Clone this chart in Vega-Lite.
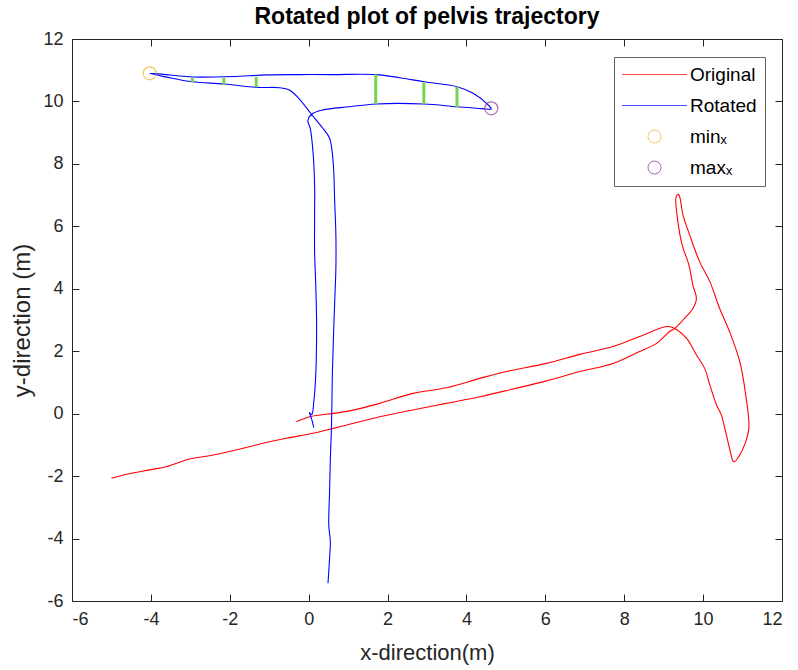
{
  "$schema": "https://vega.github.io/schema/vega-lite/v6.json",
  "width": 710,
  "height": 562,
  "autosize": {"type": "none"},
  "padding": {"left": 72, "top": 39, "right": 16, "bottom": 69},
  "background": "white",
  "title": {
    "text": "Rotated plot of pelvis trajectory",
    "font": "Liberation Sans",
    "fontSize": 23,
    "fontWeight": "bold",
    "color": "#000000",
    "anchor": "middle",
    "frame": "group",
    "offset": 1
  },
  "config": {
    "view": {"stroke": null},
    "axis": {
      "grid": false,
      "domainColor": "#262626",
      "domainWidth": 1,
      "ticks": true,
      "tickColor": "#262626",
      "tickWidth": 1,
      "tickSize": -7,
      "labelColor": "#262626",
      "titleColor": "#262626",
      "labelFont": "Liberation Sans",
      "titleFont": "Liberation Sans",
      "labelFontSize": 18,
      "titleFontWeight": "normal",
      "labelPadding": 16,
      "labelExpr": "datum.value < 0 ? '-' + abs(datum.value) : '' + datum.value"
    },
    "legend": {
      "orient": "none",
      "legendX": 542,
      "legendY": 18,
      "fillColor": "white",
      "strokeColor": "#666666",
      "padding": 8,
      "labelFont": "Liberation Sans",
      "labelFontSize": 19,
      "labelColor": "#000000",
      "labelLimit": 0,
      "symbolSize": 169,
      "symbolStrokeWidth": 1,
      "symbolOffset": 23,
      "labelOffset": 26,
      "rowPadding": 11
    }
  },
  "datasets": {
    "traj": [
      {"s": "Original", "i": 1, "x": -0.31, "y": -0.26},
      {"s": "Original", "i": 2, "x": 0.03, "y": -0.1},
      {"s": "Original", "i": 3, "x": 0.62, "y": 0.01},
      {"s": "Original", "i": 4, "x": 1.04, "y": 0.09},
      {"s": "Original", "i": 5, "x": 1.8, "y": 0.33},
      {"s": "Original", "i": 6, "x": 2.64, "y": 0.65},
      {"s": "Original", "i": 7, "x": 3.49, "y": 0.83},
      {"s": "Original", "i": 8, "x": 4.34, "y": 1.13},
      {"s": "Original", "i": 9, "x": 5.01, "y": 1.35},
      {"s": "Original", "i": 10, "x": 6.03, "y": 1.61},
      {"s": "Original", "i": 11, "x": 6.87, "y": 1.9},
      {"s": "Original", "i": 12, "x": 7.72, "y": 2.15},
      {"s": "Original", "i": 13, "x": 8.39, "y": 2.47},
      {"s": "Original", "i": 14, "x": 9.07, "y": 2.79},
      {"s": "Original", "i": 15, "x": 9.24, "y": 2.75},
      {"s": "Original", "i": 16, "x": 9.58, "y": 2.41},
      {"s": "Original", "i": 17, "x": 9.83, "y": 1.88},
      {"s": "Original", "i": 18, "x": 10.04, "y": 1.45},
      {"s": "Original", "i": 19, "x": 10.17, "y": 0.92},
      {"s": "Original", "i": 20, "x": 10.34, "y": 0.28},
      {"s": "Original", "i": 21, "x": 10.46, "y": -0.04},
      {"s": "Original", "i": 22, "x": 10.59, "y": -0.68},
      {"s": "Original", "i": 23, "x": 10.67, "y": -1.11},
      {"s": "Original", "i": 24, "x": 10.76, "y": -1.52},
      {"s": "Original", "i": 25, "x": 10.8, "y": -1.54},
      {"s": "Original", "i": 26, "x": 10.93, "y": -1.32},
      {"s": "Original", "i": 27, "x": 11.05, "y": -1.0},
      {"s": "Original", "i": 28, "x": 11.16, "y": -0.47},
      {"s": "Original", "i": 29, "x": 11.08, "y": 0.6},
      {"s": "Original", "i": 30, "x": 10.93, "y": 1.67},
      {"s": "Original", "i": 31, "x": 10.67, "y": 2.63},
      {"s": "Original", "i": 32, "x": 10.42, "y": 3.37},
      {"s": "Original", "i": 33, "x": 10.17, "y": 4.23},
      {"s": "Original", "i": 34, "x": 9.91, "y": 4.87},
      {"s": "Original", "i": 35, "x": 9.66, "y": 5.72},
      {"s": "Original", "i": 36, "x": 9.49, "y": 6.36},
      {"s": "Original", "i": 37, "x": 9.39, "y": 7.0},
      {"s": "Original", "i": 38, "x": 9.35, "y": 7.02},
      {"s": "Original", "i": 39, "x": 9.31, "y": 6.9},
      {"s": "Original", "i": 40, "x": 9.36, "y": 6.15},
      {"s": "Original", "i": 41, "x": 9.47, "y": 5.4},
      {"s": "Original", "i": 42, "x": 9.64, "y": 4.76},
      {"s": "Original", "i": 43, "x": 9.74, "y": 4.12},
      {"s": "Original", "i": 44, "x": 9.83, "y": 3.69},
      {"s": "Original", "i": 45, "x": 9.74, "y": 3.37},
      {"s": "Original", "i": 46, "x": 9.49, "y": 3.0},
      {"s": "Original", "i": 47, "x": 9.28, "y": 2.73},
      {"s": "Original", "i": 48, "x": 9.15, "y": 2.63},
      {"s": "Original", "i": 49, "x": 8.82, "y": 2.25},
      {"s": "Original", "i": 50, "x": 8.39, "y": 1.99},
      {"s": "Original", "i": 51, "x": 7.72, "y": 1.61},
      {"s": "Original", "i": 52, "x": 6.87, "y": 1.35},
      {"s": "Original", "i": 53, "x": 6.03, "y": 1.05},
      {"s": "Original", "i": 54, "x": 5.18, "y": 0.79},
      {"s": "Original", "i": 55, "x": 4.34, "y": 0.54},
      {"s": "Original", "i": 56, "x": 3.49, "y": 0.33},
      {"s": "Original", "i": 57, "x": 2.64, "y": 0.12},
      {"s": "Original", "i": 58, "x": 1.8, "y": -0.1},
      {"s": "Original", "i": 59, "x": 1.04, "y": -0.34},
      {"s": "Original", "i": 60, "x": 0.62, "y": -0.47},
      {"s": "Original", "i": 61, "x": 0.11, "y": -0.63},
      {"s": "Original", "i": 62, "x": -0.57, "y": -0.79},
      {"s": "Original", "i": 63, "x": -1.16, "y": -0.95},
      {"s": "Original", "i": 64, "x": -1.92, "y": -1.19},
      {"s": "Original", "i": 65, "x": -2.51, "y": -1.35},
      {"s": "Original", "i": 66, "x": -3.02, "y": -1.45},
      {"s": "Original", "i": 67, "x": -3.61, "y": -1.7},
      {"s": "Original", "i": 68, "x": -4.03, "y": -1.8},
      {"s": "Original", "i": 69, "x": -4.62, "y": -1.94},
      {"s": "Original", "i": 70, "x": -5.0, "y": -2.07},
      {"s": "Rotated", "i": 1, "x": 0.13, "y": -0.45},
      {"s": "Rotated", "i": 2, "x": 0.08, "y": -0.19},
      {"s": "Rotated", "i": 3, "x": 0.02, "y": 0.04},
      {"s": "Rotated", "i": 4, "x": 0.08, "y": -0.03},
      {"s": "Rotated", "i": 5, "x": 0.13, "y": 0.38},
      {"s": "Rotated", "i": 6, "x": 0.18, "y": 1.24},
      {"s": "Rotated", "i": 7, "x": 0.2, "y": 2.31},
      {"s": "Rotated", "i": 8, "x": 0.2, "y": 3.05},
      {"s": "Rotated", "i": 9, "x": 0.18, "y": 4.12},
      {"s": "Rotated", "i": 10, "x": 0.15, "y": 5.19},
      {"s": "Rotated", "i": 11, "x": 0.15, "y": 6.26},
      {"s": "Rotated", "i": 12, "x": 0.15, "y": 7.33},
      {"s": "Rotated", "i": 13, "x": 0.11, "y": 8.39},
      {"s": "Rotated", "i": 14, "x": 0.04, "y": 9.14},
      {"s": "Rotated", "i": 15, "x": -0.02, "y": 9.38},
      {"s": "Rotated", "i": 16, "x": 0.07, "y": 9.59},
      {"s": "Rotated", "i": 17, "x": 0.36, "y": 9.73},
      {"s": "Rotated", "i": 18, "x": 1.04, "y": 9.83},
      {"s": "Rotated", "i": 19, "x": 1.7, "y": 9.92},
      {"s": "Rotated", "i": 20, "x": 2.92, "y": 9.92},
      {"s": "Rotated", "i": 21, "x": 3.76, "y": 9.83},
      {"s": "Rotated", "i": 22, "x": 4.4, "y": 9.77},
      {"s": "Rotated", "i": 23, "x": 4.63, "y": 9.76},
      {"s": "Rotated", "i": 24, "x": 4.55, "y": 9.89},
      {"s": "Rotated", "i": 25, "x": 4.17, "y": 10.26},
      {"s": "Rotated", "i": 26, "x": 3.76, "y": 10.47},
      {"s": "Rotated", "i": 27, "x": 2.92, "y": 10.63},
      {"s": "Rotated", "i": 28, "x": 2.31, "y": 10.76},
      {"s": "Rotated", "i": 29, "x": 1.7, "y": 10.86},
      {"s": "Rotated", "i": 30, "x": 0.62, "y": 10.86},
      {"s": "Rotated", "i": 31, "x": -0.23, "y": 10.86},
      {"s": "Rotated", "i": 32, "x": -1.07, "y": 10.85},
      {"s": "Rotated", "i": 33, "x": -1.92, "y": 10.8},
      {"s": "Rotated", "i": 34, "x": -2.76, "y": 10.78},
      {"s": "Rotated", "i": 35, "x": -3.02, "y": 10.79},
      {"s": "Rotated", "i": 36, "x": -4.03, "y": 10.9},
      {"s": "Rotated", "i": 37, "x": -3.6, "y": 10.78},
      {"s": "Rotated", "i": 38, "x": -2.95, "y": 10.63},
      {"s": "Rotated", "i": 39, "x": -2.15, "y": 10.56},
      {"s": "Rotated", "i": 40, "x": -1.33, "y": 10.45},
      {"s": "Rotated", "i": 41, "x": -0.74, "y": 10.44},
      {"s": "Rotated", "i": 42, "x": -0.48, "y": 10.36},
      {"s": "Rotated", "i": 43, "x": -0.25, "y": 10.1},
      {"s": "Rotated", "i": 44, "x": 0.07, "y": 9.59},
      {"s": "Rotated", "i": 45, "x": 0.36, "y": 9.14},
      {"s": "Rotated", "i": 46, "x": 0.53, "y": 8.82},
      {"s": "Rotated", "i": 47, "x": 0.62, "y": 8.07},
      {"s": "Rotated", "i": 48, "x": 0.66, "y": 6.79},
      {"s": "Rotated", "i": 49, "x": 0.69, "y": 5.72},
      {"s": "Rotated", "i": 50, "x": 0.69, "y": 4.65},
      {"s": "Rotated", "i": 51, "x": 0.66, "y": 3.59},
      {"s": "Rotated", "i": 52, "x": 0.63, "y": 2.52},
      {"s": "Rotated", "i": 53, "x": 0.6, "y": 1.24},
      {"s": "Rotated", "i": 54, "x": 0.58, "y": -0.36},
      {"s": "Rotated", "i": 55, "x": 0.55, "y": -1.43},
      {"s": "Rotated", "i": 56, "x": 0.53, "y": -2.5},
      {"s": "Rotated", "i": 57, "x": 0.51, "y": -3.57},
      {"s": "Rotated", "i": 58, "x": 0.55, "y": -4.1},
      {"s": "Rotated", "i": 59, "x": 0.53, "y": -4.63},
      {"s": "Rotated", "i": 60, "x": 0.49, "y": -5.43}
    ],
    "widths": [
      {"x": -2.95, "y": 10.61, "y2": 10.76},
      {"x": -2.15, "y": 10.54, "y2": 10.76},
      {"x": -1.33, "y": 10.45, "y2": 10.79},
      {"x": 1.7, "y": 9.92, "y2": 10.87},
      {"x": 2.92, "y": 9.92, "y2": 10.61},
      {"x": 3.76, "y": 9.81, "y2": 10.47}
    ],
    "ends": [
      {"s": "minₓ", "x": -4.03, "y": 10.9},
      {"s": "maxₓ", "x": 4.63, "y": 9.78}
    ]
  },
  "layer": [
    {
      "data": {"name": "traj"},
      "mark": {"type": "line", "strokeWidth": 1.1, "interpolate": "catmull-rom"},
      "encoding": {
        "x": {
          "field": "x",
          "type": "quantitative",
          "scale": {"domain": [-6, 12], "nice": false, "zero": false},
          "axis": {
            "values": [-6, -4, -2, 0, 2, 4, 6, 8, 10, 12],
            "title": "x-direction(m)",
            "titleFontSize": 22,
            "titlePadding": 14
          }
        },
        "y": {
          "field": "y",
          "type": "quantitative",
          "scale": {"domain": [-6, 12], "nice": false, "zero": false},
          "axis": {
            "values": [-6, -4, -2, 0, 2, 4, 6, 8, 10, 12],
            "title": "y-direction (m)",
            "titleFontSize": 24,
            "titlePadding": 8
          }
        },
        "color": {
          "field": "s",
          "type": "nominal",
          "scale": {
            "domain": ["Original", "Rotated", "minₓ", "maxₓ"],
            "range": ["#ff0000", "#0000ff", "#edb120", "#7e2f8e"]
          },
          "legend": {"title": null}
        },
        "order": {"field": "i", "type": "quantitative"}
      }
    },
    {
      "data": {"name": "widths"},
      "mark": {"type": "rule", "color": "#77d34d", "strokeWidth": 3},
      "encoding": {
        "x": {"field": "x", "type": "quantitative", "axis": null},
        "y": {"field": "y", "type": "quantitative", "axis": null},
        "y2": {"field": "y2"}
      }
    },
    {
      "data": {"name": "ends"},
      "mark": {"type": "point", "filled": false, "size": 169, "strokeWidth": 1.2},
      "encoding": {
        "x": {
          "field": "x",
          "type": "quantitative",
          "axis": {
            "orient": "top",
            "values": [-6, -4, -2, 0, 2, 4, 6, 8, 10, 12],
            "labels": false,
            "title": null
          }
        },
        "y": {
          "field": "y",
          "type": "quantitative",
          "axis": {
            "orient": "right",
            "values": [-6, -4, -2, 0, 2, 4, 6, 8, 10, 12],
            "labels": false,
            "title": null
          }
        },
        "color": {"field": "s", "type": "nominal", "legend": {"title": null}},
        "shape": {
          "field": "s",
          "type": "nominal",
          "scale": {
            "domain": ["Original", "Rotated", "minₓ", "maxₓ"],
            "range": ["M-5,0H5", "M-5,0H5", "circle", "circle"]
          },
          "legend": {"title": null}
        }
      }
    }
  ],
  "resolve": {"axis": {"x": "independent", "y": "independent"}}
}
